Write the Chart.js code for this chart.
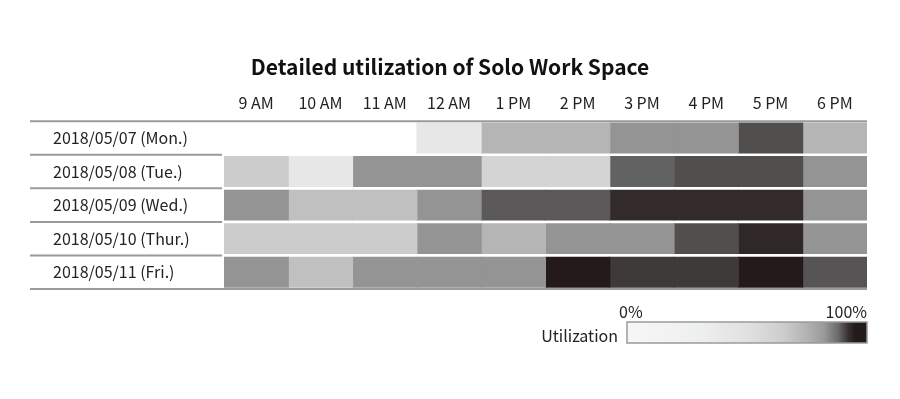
<!DOCTYPE html>
<html>
<head>
<meta charset="utf-8">
<script src="https://cdn.jsdelivr.net/npm/chart.js@4"></script>
<style>
  html, body { margin: 0; padding: 0; background: #fff; }
  #wrap { width: 900px; height: 399px; }
</style>
</head>
<body>
<div id="wrap"><canvas id="heat"></canvas></div>
<script>
// données
const hours = ['9 AM', '10 AM', '11 AM', '12 AM', '1 PM', '2 PM', '3 PM', '4 PM', '5 PM', '6 PM'];
const days = ['2018/05/07 (Mon.)', '2018/05/08 (Tue.)', '2018/05/09 (Wed.)', '2018/05/10 (Thur.)', '2018/05/11 (Fri.)'];
// utilization in % per hour (null = no use)
const mon = [null, null, null, 10, 40, 40, 50, 50, 75, 40];
const tue = [25, 10, 50, 50, 20, 20, 65, 75, 75, 50];
const wed = [50, 30, 30, 50, 70, 70, 90, 90, 90, 50];
const thu = [25, 25, 25, 50, 40, 50, 50, 75, 92, 50];
const fri = [50, 30, 50, 50, 50, 100, 85, 85, 100, 72];
const rows = [mon, tue, wed, thu, fri];
const legendTicks = ['0%', '100%'];
const legendTitle = 'Utilization';

// colour scale for cells
const cellStops = [
  [0, [247, 248, 247]], [10, [230, 231, 230]], [20, [212, 212, 212]], [25, [203, 204, 203]],
  [30, [192, 192, 192]], [40, [180, 181, 180]], [50, [147, 148, 147]], [65, [98, 98, 98]],
  [70, [90, 88, 89]], [75, [81, 79, 78]], [85, [62, 58, 58]], [90, [51, 43, 42]], [100, [35, 26, 25]]
];
function colorFor(v) {
  if (v == null) return 'rgba(0,0,0,0)';
  for (let i = 1; i < cellStops.length; i++) {
    const [v1, c1] = cellStops[i];
    const [v0, c0] = cellStops[i - 1];
    if (v <= v1) {
      const t = (v - v0) / (v1 - v0);
      const c = c0.map((x, k) => Math.round(x + (c1[k] - x) * t));
      return `rgb(${c[0]},${c[1]},${c[2]})`;
    }
  }
  return 'rgb(35,26,25)';
}

const FONT = "'Noto Sans CJK JP', 'Noto Sans', sans-serif";

const datasets = hours.map((h, j) => ({
  label: h,
  data: rows.map(r => (r[j] == null ? null : [j, j + 1])),
  backgroundColor: rows.map(r => colorFor(r[j])),
  borderWidth: 0,
  inflateAmount: 0.5,
  grouped: false,
  barPercentage: 1,
  categoryPercentage: 0.89
}));

// lignes de séparation + légende dégradée
const decorPlugin = {
  id: 'decor',
  afterLayout(chart) {
    // labels de jours alignés à gauche, un peu en retrait
    chart.scales.y.left += 20;
  },
  afterDatasetsDraw(chart) {
    const { ctx, chartArea, scales } = chart;
    const y = scales.y;
    const x0 = y.left - 23;
    ctx.save();
    ctx.strokeStyle = '#9a9a9a';
    ctx.lineWidth = 2;
    const n = days.length;
    for (let i = 0; i <= n; i++) {
      let py;
      if (i === 0) py = chartArea.top;
      else if (i === n) py = chartArea.bottom;
      else py = (y.getPixelForValue(i - 1) + y.getPixelForValue(i)) / 2;
      const xEnd = (i === 0 || i === n) ? chartArea.right : chartArea.left - 2;
      ctx.beginPath();
      ctx.moveTo(x0, py);
      ctx.lineTo(xEnd, py);
      ctx.stroke();
    }

    // légende
    const lx = chartArea.right - 240, lw = 240, ly = chartArea.bottom + 33, lh = 21;
    const g = ctx.createLinearGradient(lx, 0, lx + lw, 0);
    g.addColorStop(0, '#f6f7f6');
    g.addColorStop(0.3, '#eef0ef');
    g.addColorStop(0.5, '#e0e1e0');
    g.addColorStop(0.65, '#cdcdcd');
    g.addColorStop(0.75, '#b2b2b2');
    g.addColorStop(0.82, '#999a99');
    g.addColorStop(0.88, '#6a6a6a');
    g.addColorStop(0.92, '#3a3333');
    g.addColorStop(0.95, '#231a19');
    g.addColorStop(1, '#231a19');
    ctx.fillStyle = g;
    ctx.fillRect(lx, ly, lw, lh);
    ctx.strokeStyle = '#9a9a9a';
    ctx.lineWidth = 1.5;
    ctx.strokeRect(lx, ly, lw, lh);

    ctx.fillStyle = '#222';
    ctx.font = '16px ' + FONT;
    ctx.textBaseline = 'bottom';
    ctx.textAlign = 'left';
    ctx.fillText(legendTicks[0], lx - 8, ly - 2);
    ctx.textAlign = 'right';
    ctx.fillText(legendTicks[1], lx + lw, ly - 2);
    ctx.textBaseline = 'middle';
    ctx.font = '16px ' + FONT;
    ctx.fillText(legendTitle, lx - 9, ly + lh / 2 + 3);
    ctx.restore();
  }
};

new Chart(document.getElementById('heat'), {
  type: 'bar',
  data: { labels: days, datasets: datasets },
  options: {
    indexAxis: 'y',
    responsive: true,
    maintainAspectRatio: false,
    animation: false,
    layout: { padding: { left: 33, right: 33, top: 0, bottom: 110 } },
    plugins: {
      legend: { display: false },
      tooltip: { enabled: false },
      title: {
        display: true,
        text: 'Detailed utilization of Solo Work Space',
        color: '#111',
        font: { family: FONT, size: 21, weight: 'bold' },
        padding: { top: 54, bottom: 0 }
      }
    },
    scales: {
      x: {
        type: 'linear',
        position: 'top',
        min: 0,
        max: hours.length,
        grid: { display: false, drawTicks: false },
        border: { display: false },
        afterBuildTicks: (scale) => {
          scale.ticks = hours.map((h, i) => ({ value: i + 0.5 }));
        },
        afterFit: (scale) => { scale.height = 42; },
        ticks: {
          autoSkip: false,
          maxRotation: 0,
          padding: 9,
          color: '#222',
          font: { family: FONT, size: 16 },
          callback: (v, i) => hours[i]
        }
      },
      y: {
        type: 'category',
        offset: true,
        grid: { display: false, drawTicks: false },
        border: { display: false },
        afterFit: (scale) => { scale.width = 191; },
        ticks: {
          crossAlign: 'far',
          color: '#222',
          font: { family: FONT, size: 16 }
        }
      }
    }
  },
  plugins: [decorPlugin]
});
</script>
</body>
</html>
